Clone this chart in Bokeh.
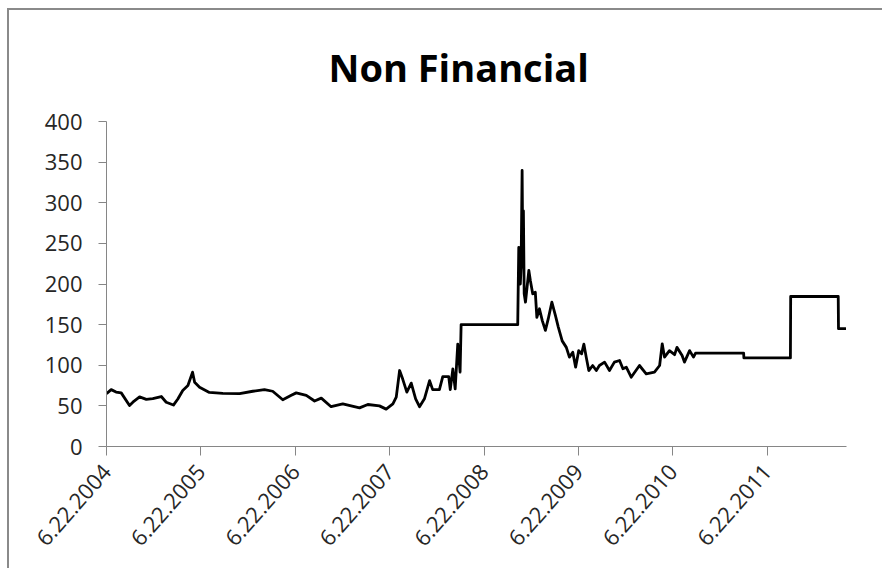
from datetime import datetime
import pandas as pd
from bokeh.plotting import figure
from bokeh.models import FixedTicker, Range1d, ColumnDataSource
from bokeh.embed import file_html
from bokeh.resources import INLINE

# ---- data ----
dates = [
    "2004-06-22", "2004-07-10", "2004-07-29", "2004-08-18", "2004-09-19", "2004-10-02",
    "2004-10-28", "2004-11-23", "2004-12-18", "2005-01-20", "2005-02-08", "2005-03-08",
    "2005-03-25", "2005-04-13", "2005-05-03", "2005-05-21", "2005-05-29", "2005-06-17",
    "2005-07-25", "2005-09-15", "2005-11-19", "2006-01-09", "2006-02-23", "2006-03-27",
    "2006-05-05", "2006-06-07", "2006-06-26", "2006-08-04", "2006-09-05", "2006-10-01",
    "2006-11-08", "2006-12-23", "2007-02-26", "2007-03-30", "2007-05-14", "2007-06-09",
    "2007-07-05", "2007-07-18", "2007-07-31", "2007-08-12", "2007-08-28", "2007-09-14",
    "2007-10-01", "2007-10-16", "2007-11-04", "2007-11-24", "2007-12-06", "2008-01-01",
    "2008-01-14", "2008-02-06", "2008-02-12", "2008-02-22", "2008-03-02", "2008-03-12",
    "2008-03-21", "2008-03-25", "2008-10-30", "2008-11-03", "2008-11-09", "2008-11-12",
    "2008-11-16", "2008-11-19", "2008-11-21", "2008-11-24", "2008-11-29", "2008-12-12",
    "2008-12-18", "2008-12-27", "2009-01-06", "2009-01-12", "2009-01-22", "2009-02-02",
    "2009-02-14", "2009-02-25", "2009-03-11", "2009-03-25", "2009-04-05", "2009-04-20",
    "2009-05-06", "2009-05-18", "2009-05-31", "2009-06-11", "2009-06-23", "2009-07-04",
    "2009-07-13", "2009-07-22", "2009-08-01", "2009-08-16", "2009-08-30", "2009-09-11",
    "2009-10-01", "2009-10-20", "2009-11-08", "2009-11-28", "2009-12-11", "2009-12-24",
    "2010-01-12", "2010-02-13", "2010-03-11", "2010-04-12", "2010-05-02", "2010-05-12",
    "2010-05-21", "2010-06-09", "2010-06-29", "2010-07-08", "2010-07-28", "2010-08-06",
    "2010-08-26", "2010-09-10", "2010-09-18", "2011-03-23", "2011-03-24", "2011-09-20",
    "2011-09-21", "2012-03-23", "2012-03-24", "2012-04-22",
]
values = [
    65, 70, 67, 66, 50.5, 54.5,
    61, 58, 59, 61.5, 54.5, 51,
    58.5, 69, 75, 91.5, 79, 73,
    66.5, 65.5, 65, 68, 70, 68,
    57.5, 63, 66, 63, 56, 59.5,
    49, 52.5, 47.5, 51.7, 50, 46,
    52.5, 60.7, 93.5, 83, 67, 78,
    58.7, 49, 58.7, 81, 70, 70,
    86, 86, 70, 95.5, 71, 126,
    91.5, 150, 150, 245, 200, 220.7,
    339.7, 220.7, 290, 188, 177.6, 216.6,
    204, 188, 190, 159, 169.5, 155,
    143, 157, 177.6, 161, 147, 130,
    122, 110, 116, 97.6, 118, 114,
    126, 110, 93.5, 99.7, 93.5, 99.7,
    103.8, 93.5, 103.8, 105.8, 95.6, 97.6,
    85.3, 99.7, 89.5, 91.5, 99.7, 126.4,
    110, 118, 113, 122, 112, 103.8,
    118, 110, 115, 115, 109, 109,
    184.6, 184.6, 145, 145,
]
tick_labels = ["6.22.2004", "6.22.2005", "6.22.2006", "6.22.2007",
               "6.22.2008", "6.22.2009", "6.22.2010", "6.22.2011"]
y_ticks = [0, 50, 100, 150, 200, 250, 300, 350, 400]
x_start, x_end = "2004-06-22", "2012-04-24"
title_text = "Non Financial"

# ---- build ----
src = ColumnDataSource(dict(date=pd.to_datetime(dates), value=values))
tick_dates = [datetime.strptime(t, "%m.%d.%Y") for t in tick_labels]
tick_ms = [int(pd.Timestamp(d).value // 10**6) for d in tick_dates]

AXIS_GRAY = "#868686"
LABEL_COL = "#262626"

p = figure(width=875, height=560, x_axis_type="datetime",
           x_range=Range1d(pd.Timestamp(x_start), pd.Timestamp(x_end)),
           y_range=Range1d(0, 400),
           output_backend="svg", toolbar_location=None,
           min_border_left=97, min_border_right=38,
           min_border_top=111, min_border_bottom=124,
           background_fill_color="white", border_fill_color="white")
p.styles = {"border-left": "2px solid #8a8a8a", "border-top": "2px solid #8a8a8a",
            "margin-left": "7px", "margin-top": "8px"}

p.line("date", "value", source=src, line_color="black", line_width=2.8,
       line_join="round")

p.xgrid.visible = False
p.ygrid.visible = False
p.outline_line_color = None

p.title.text = title_text
p.title.align = "left"
p.title.text_font = "Open Sans"
p.title.text_font_style = "bold"
p.title.text_font_size = "38px"
p.title.text_color = "black"
p.title.offset = 222
p.title.standoff = 57

ya = p.yaxis[0]
ya.ticker = FixedTicker(ticks=y_ticks)
ya.axis_line_color = AXIS_GRAY
ya.major_tick_line_color = AXIS_GRAY
ya.major_tick_out = 8
ya.major_tick_in = 0
ya.minor_tick_line_color = None
ya.major_label_text_font = "Open Sans"
ya.major_label_text_font_size = "22px"
ya.major_label_text_color = LABEL_COL
ya.major_label_standoff = 16

xa = p.xaxis[0]
xa.ticker = FixedTicker(ticks=tick_ms)
xa.major_label_overrides = {ms: lab for ms, lab in zip(tick_ms, tick_labels)}
xa.axis_line_color = AXIS_GRAY
xa.major_tick_line_color = AXIS_GRAY
xa.major_tick_out = 9
xa.major_tick_in = 0
xa.minor_tick_line_color = None
xa.major_label_text_font = "Open Sans"
xa.major_label_text_font_size = "22px"
xa.major_label_text_color = LABEL_COL
xa.major_label_orientation = 0.85
xa.major_label_standoff = 12

open("out.html", "w").write(file_html(p, INLINE))
